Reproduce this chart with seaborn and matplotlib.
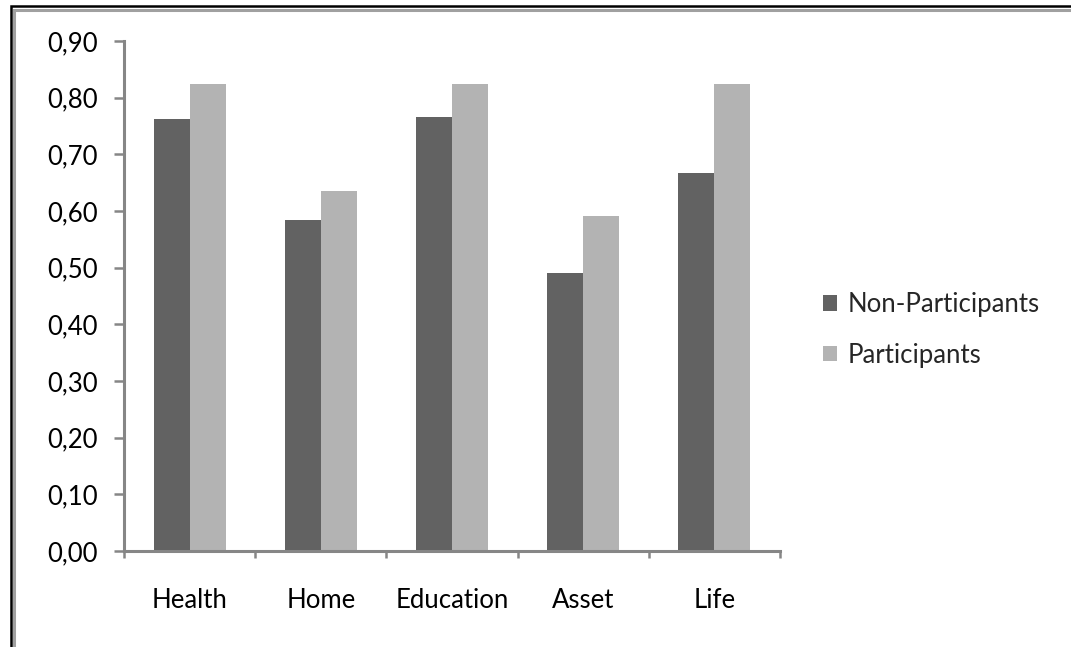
import matplotlib
matplotlib.use("Agg")
import matplotlib.pyplot as plt
from matplotlib.patches import Rectangle
from matplotlib.ticker import FixedLocator, FixedFormatter, NullFormatter
import seaborn as sns
import pandas as pd

categories = ["Health", "Home", "Education", "Asset", "Life"]
non_participants = [0.762, 0.585, 0.766, 0.491, 0.667]
participants = [0.824, 0.635, 0.824, 0.592, 0.824]
series_names = ["Non-Participants", "Participants"]
ytick_values = [0.0, 0.1, 0.2, 0.3, 0.4, 0.5, 0.6, 0.7, 0.8, 0.9]
ytick_labels = ["0,00", "0,10", "0,20", "0,30", "0,40", "0,50", "0,60", "0,70", "0,80", "0,90"]

df = pd.DataFrame({
    "category": categories * 2,
    "value": non_participants + participants,
    "series": [series_names[0]] * len(categories) + [series_names[1]] * len(categories),
})

sns.set_theme(style="white")
plt.rcParams["font.family"] = ["Lato", "DejaVu Sans"]

W, H = 1071, 647
fig = plt.figure(figsize=(W / 100, H / 100), dpi=100)
ax = fig.add_axes([124 / W, 1 - 551 / H, (780 - 124) / W, (551 - 41) / H])

palette = {series_names[0]: "#626262", series_names[1]: "#b3b3b3"}
sns.barplot(data=df, x="category", y="value", hue="series", order=categories,
            hue_order=series_names, palette=palette, width=0.55, saturation=1,
            ax=ax, linewidth=0)

ax.set_xlim(-0.5, len(categories) - 0.5)
ax.set_ylim(0, 0.9)
ax.set_xlabel("")
ax.set_ylabel("")

spine_col = "#868686"
for s in ["top", "right"]:
    ax.spines[s].set_visible(False)
for s in ["left", "bottom"]:
    ax.spines[s].set_color(spine_col)
    ax.spines[s].set_linewidth(2.2)

fs = 18.5
ax.yaxis.set_major_locator(FixedLocator(ytick_values))
ax.yaxis.set_major_formatter(FixedFormatter(ytick_labels))
ax.tick_params(axis="y", which="major", direction="out", length=7, width=1.8,
               color=spine_col, pad=12, labelsize=fs, labelcolor="black", left=True)

ax.xaxis.set_minor_locator(FixedLocator([i - 0.5 for i in range(len(categories) + 1)]))
ax.xaxis.set_minor_formatter(NullFormatter())
ax.tick_params(axis="x", which="major", length=0, pad=27, labelsize=fs, labelcolor="black")
ax.tick_params(axis="x", which="minor", direction="out", length=5, width=1.8,
               color=spine_col, bottom=True)

leg = ax.legend(loc="center left", bbox_to_anchor=(823 / W, 1 - 330 / H),
                bbox_transform=fig.transFigure, frameon=False, fontsize=fs,
                handlelength=0.55, handleheight=0.55, handletextpad=0.4,
                labelspacing=1.0, borderpad=0, borderaxespad=0)

# frame around the chart area (partially cut off at right and bottom)
fig.add_artist(Rectangle((10.5 / W, -0.1), 1.2, 1 - 5.5 / H + 0.1, transform=fig.transFigure,
                         fill=False, edgecolor="black", linewidth=1.8))
fig.add_artist(Rectangle((14 / W, -0.1), 1.2, 1 - 9.5 / H + 0.1, transform=fig.transFigure,
                         fill=False, edgecolor="#a0a0a0", linewidth=2.2))

fig.savefig("out.png", dpi=100)
